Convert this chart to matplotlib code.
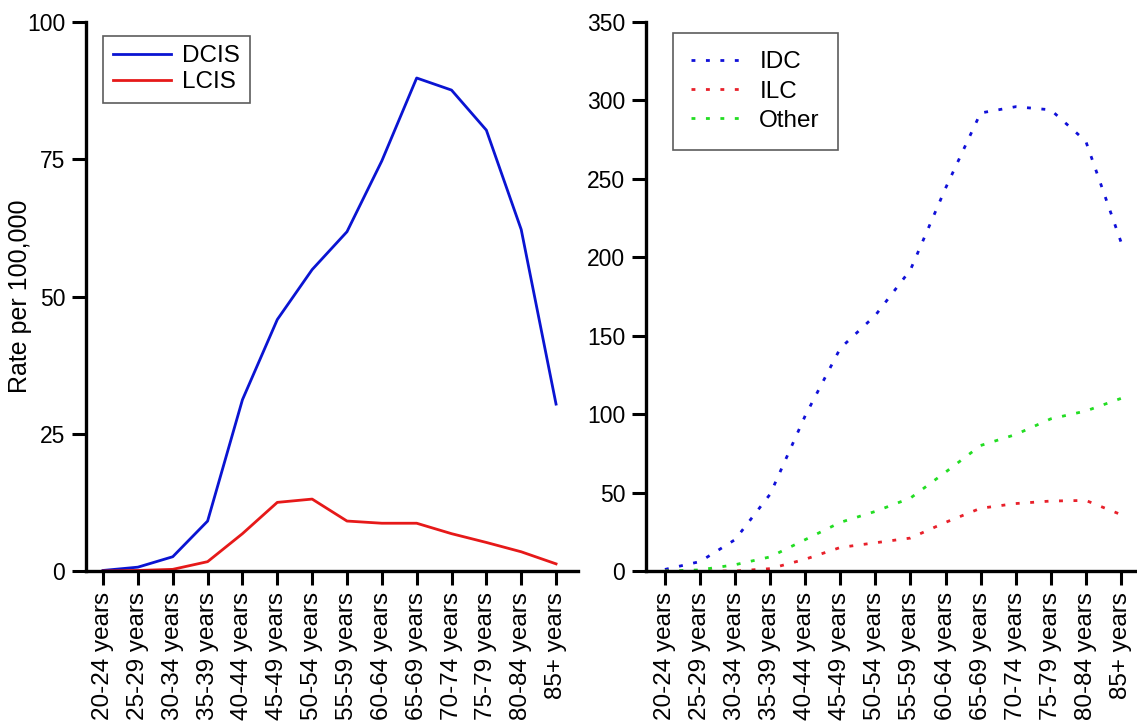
import numpy as np
import matplotlib
matplotlib.use("Agg")
import matplotlib.pyplot as plt

plt.rcParams.update({"font.family": ["Liberation Sans", "DejaVu Sans"], "font.size": 17})

age_groups = ["20-24 years", "25-29 years", "30-34 years", "35-39 years", "40-44 years",
              "45-49 years", "50-54 years", "55-59 years", "60-64 years", "65-69 years",
              "70-74 years", "75-79 years", "80-84 years", "85+ years"]

# in situ rates per 100,000
dcis = [0.1, 0.7, 2.6, 9.1, 31.2, 45.8, 54.9, 61.8, 74.7, 89.8, 87.6, 80.3, 62.2, 30.4]
lcis = [0.0, 0.1, 0.3, 1.7, 6.8, 12.5, 13.1, 9.1, 8.7, 8.7, 6.8, 5.2, 3.5, 1.3]

# invasive rates per 100,000
idc = [1, 6, 20, 49, 99, 142, 163, 192, 244, 292, 296, 294, 274, 210]
ilc = [0, 0, 0, 1.5, 7.5, 15, 18, 21, 31, 40, 43, 44.6, 45, 36]
other = [0, 0.7, 4, 9, 20, 31, 38, 46.5, 63, 80, 87, 97, 102, 110]

W, H = 1137, 722
fig = plt.figure(figsize=(W / 100, H / 100), dpi=100)

ax1 = fig.add_axes([86 / W, 1 - 571 / H, (578 - 86) / W, (571 - 22) / H])
ax2 = fig.add_axes([646 / W, 1 - 571 / H, (1137 - 646) / W, (571 - 22) / H])

x = np.arange(len(age_groups))

ax1.plot(x, dcis, color="#0a14d2", lw=2.0, label="DCIS")
ax1.plot(x, lcis, color="#e61919", lw=2.0, label="LCIS")

dot = (0, (1.4, 3.8))
ax2.plot(x, idc, color="#1010d8", lw=2.0, ls=dot, label="IDC")
ax2.plot(x, ilc, color="#e8202a", lw=2.0, ls=dot, label="ILC")
ax2.plot(x, other, color="#22dd22", lw=2.0, ls=dot, label="Other")

ax1.set_xlim(-0.49, 13.63)
ax1.set_ylim(0, 100)
ax1.set_yticks([0, 25, 50, 75, 100])
ax2.set_xlim(-0.54, 13.46)
ax2.set_ylim(0, 350)
ax2.set_yticks(range(0, 351, 50))

ax1.set_ylabel("Rate per 100,000", fontsize=18)
ax1.yaxis.set_label_coords(-0.11, 0.5)

for ax in (ax1, ax2):
    ax.set_xticks(x)
    ax.set_xticklabels(age_groups, rotation=90, fontsize=17.5)
    for s in ("top", "right"):
        ax.spines[s].set_visible(False)
    for s in ("left", "bottom"):
        ax.spines[s].set_linewidth(2.4)
    ax.tick_params(axis="both", length=10, width=2.2, pad=5)
    ax.tick_params(axis="y", labelsize=16.5)

ax1.legend(loc="upper left", bbox_to_anchor=(0.035, 0.975), borderaxespad=0, frameon=True,
           fancybox=False, edgecolor="#333333", handlelength=2.4, handletextpad=0.45,
           borderpad=0.4, labelspacing=0.15, fontsize=17.5).get_frame().set_linewidth(1.2)
ax2.legend(loc="upper left", bbox_to_anchor=(0.055, 0.98), borderaxespad=0, frameon=True,
           fancybox=False, edgecolor="#333333", handlelength=2.2, handletextpad=0.6,
           borderpad=0.75, labelspacing=0.3, fontsize=17.5).get_frame().set_linewidth(1.2)

fig.savefig("out.png", dpi=100)
